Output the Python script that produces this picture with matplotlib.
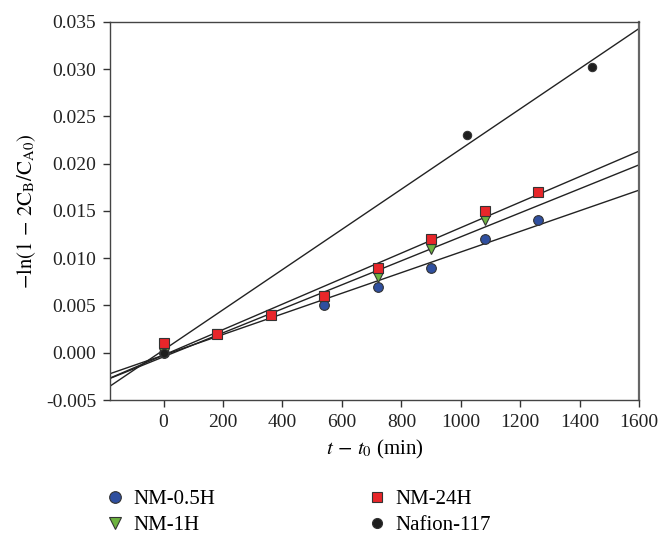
import numpy as np
import matplotlib
matplotlib.use('Agg')
import matplotlib.pyplot as plt
from matplotlib.ticker import FormatStrFormatter

plt.rcParams['font.family'] = ['Liberation Serif', 'DejaVu Serif']
plt.rcParams['mathtext.fontset'] = 'stix'
plt.rcParams['font.size'] = 14

# Reaction time (min) and -ln(1 - 2 C_B / C_A0) for each membrane
t_05h = [0, 180, 360, 540, 720, 900, 1080, 1260]
y_05h = [0.0, 0.002, 0.004, 0.005, 0.007, 0.009, 0.012, 0.014]

t_1h = [0, 180, 360, 540, 720, 900, 1080]
y_1h = [0.0, 0.002, 0.004, 0.006, 0.008, 0.011, 0.014]

t_24h = [0, 180, 360, 540, 720, 900, 1080, 1260]
y_24h = [0.001, 0.002, 0.004, 0.006, 0.009, 0.012, 0.015, 0.017]

t_naf = [0, 1020, 1440]
y_naf = [0.0, 0.023, 0.0302]

labels = ['NM-0.5H', 'NM-1H', 'NM-24H', 'Nafion-117']
series = [(t_05h, y_05h), (t_1h, y_1h), (t_24h, y_24h), (t_naf, y_naf)]
colors = ['#2f4f9f', '#6db33f', '#e8262a', '#1e1e1e']
markers = ['o', 'v', 's', 'o']
sizes = [7, 7, 6.5, 6]

xlim = (-180, 1600)
ylim = (-0.005, 0.035)

fig = plt.figure(figsize=(6.59, 5.37), dpi=100)
ax = fig.add_axes([0.167, 0.2551, 0.803, 0.704])

# least-squares line through each data set, across the full x range
xx = np.array(xlim)
for t, y in series:
    k, b = np.polyfit(t, y, 1)
    ax.plot(xx, k * xx + b, color='#222222', lw=1.0, zorder=2)

for (t, y), lab, c, m, s in zip(series, labels, colors, markers, sizes):
    ax.plot(t, y, ls='none', marker=m, ms=s, mfc=c, mec='#333333',
            mew=0.8, label=lab, zorder=3)

ax.set_xlim(*xlim)
ax.set_ylim(*ylim)
ax.set_xticks(np.arange(0, 1601, 200))
ax.set_yticks(np.arange(-0.005, 0.0351, 0.005))
ax.yaxis.set_major_formatter(FormatStrFormatter('%.3f'))
ax.tick_params(direction='out', length=5, width=1, colors='#333333',
               labelcolor='#222222', labelsize=14, top=False, right=False,
               pad=5)
for sp in ax.spines.values():
    sp.set_color('#444444')
    sp.set_linewidth(1.0)
ax.spines['right'].set_color('#666666')
ax.spines['right'].set_linewidth(1.6)

ax.set_xlabel(r'$t\,-\,t_0$ (min)', fontsize=15, labelpad=5)
ax.set_ylabel(r'$-\mathrm{ln}(1\,-\,2\mathrm{C}_\mathrm{B}/\mathrm{C}_\mathrm{A0})$',
              fontsize=15, labelpad=6)

fig.legend(loc='lower left', bbox_to_anchor=(0.14, -0.02), ncol=2,
           frameon=False, fontsize=15, handletextpad=0.35, markerscale=1.2,
           columnspacing=7.3, labelspacing=0.3, handlelength=1.0,
           borderaxespad=0.2)

plt.savefig('out.png', dpi=100)
